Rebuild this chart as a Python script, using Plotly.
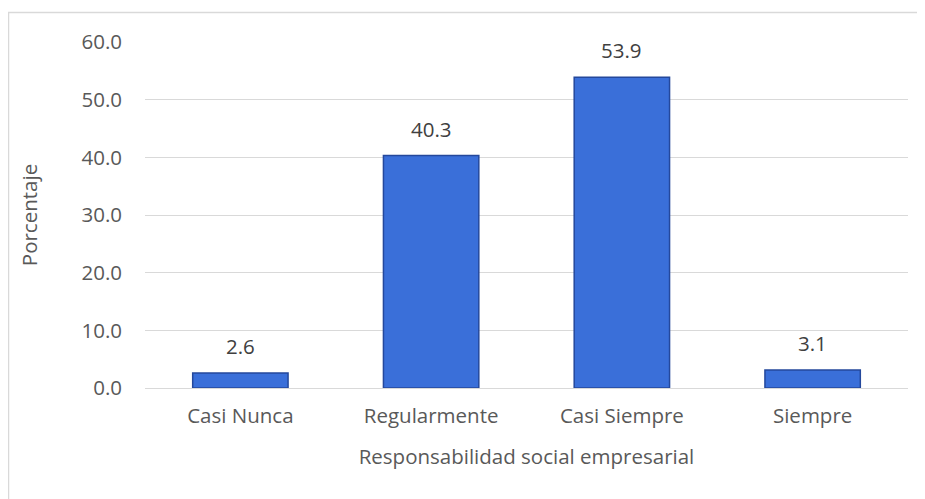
import plotly.graph_objects as go

categories = ["Casi Nunca", "Regularmente", "Casi Siempre", "Siempre"]
values = [2.6, 40.3, 53.9, 3.1]
y_ticks = [0, 10, 20, 30, 40, 50, 60]
y_ticklabels = ["0.0", "10.0", "20.0", "30.0", "40.0", "50.0", "60.0"]
x_title = "Responsabilidad social empresarial"
y_title = "Porcentaje"

FONT = "Open Sans"
TXT = "#595959"
FS = 20.5

fig = go.Figure(go.Bar(
    x=categories, y=values,
    marker=dict(color="#3a6fd9", line=dict(color="#24489c", width=1.5)),
    width=0.5,
))

for c, v in zip(categories, values):
    fig.add_annotation(x=c, y=v, text=f"{v:.1f}", showarrow=False,
                       yanchor="bottom", yshift=11,
                       font=dict(family=FONT, size=FS, color="#404040"))

# page has an 8px body margin; figure pixel = page pixel - 8
OFF = 8
W, H = 925 - OFF, 499 - OFF
L = 145 - OFF
T = 42 - OFF
R = W - (908 - OFF)
B = H - (388 - OFF)
pw, ph = W - L - R, H - T - B

def px_x(p):
    return (p - OFF - L) / pw

def px_y(p):
    return (H - B - (p - OFF)) / ph

fig.update_layout(
    width=W, height=H,
    margin=dict(l=L, r=R, t=T, b=B),
    paper_bgcolor="white", plot_bgcolor="white",
    font=dict(family=FONT, size=FS, color=TXT),
    showlegend=False,
    xaxis=dict(
        title=dict(text=x_title, font=dict(size=FS, color=TXT), standoff=22),
        showgrid=False, showline=False, zeroline=False,
        ticks="", ticklabelstandoff=13,
        tickfont=dict(size=FS, color=TXT),
    ),
    yaxis=dict(
        range=[0, 60],
        tickvals=y_ticks, ticktext=y_ticklabels,
        showgrid=True, gridcolor="#d9d9d9", gridwidth=1,
        zeroline=True, zerolinecolor="#d9d9d9", zerolinewidth=1,
        showline=False, ticks="", ticklabelstandoff=22,
        tickfont=dict(size=FS, color=TXT),
        title=dict(text=y_title, font=dict(size=FS, color=TXT), standoff=38),
    ),
    shapes=[dict(
        type="rect", xref="paper", yref="paper",
        x0=px_x(8.5), x1=px_x(960), y0=px_y(540), y1=px_y(12.5),
        line=dict(color="#d9d9d9", width=1.5), fillcolor="rgba(0,0,0,0)",
        layer="below",
    )],
)

fig.write_html("out.html")
